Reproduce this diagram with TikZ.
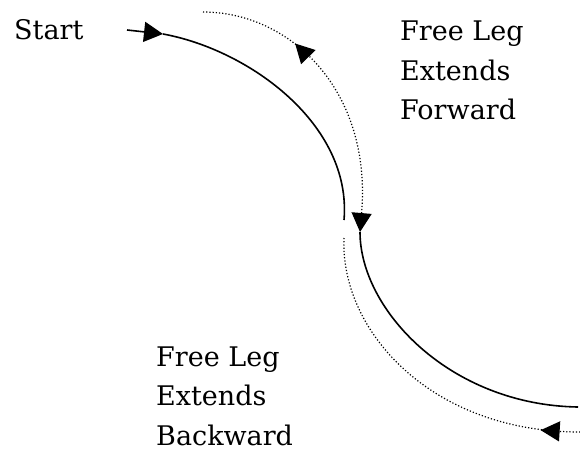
\documentclass[tikz,border=0pt]{standalone}
\usepackage{fontspec}
\setmainfont{DejaVu Serif}
\usetikzlibrary{arrows.meta,decorations.markings}

\begin{document}
\begin{tikzpicture}[x=1pt,y=-1pt]
    \tikzstyle{every node}=[font=\fontsize{27}{39.5}\selectfont, inner sep=0pt, align=left]
    \tikzstyle{leg}=[line width=1.6pt]
    \tikzstyle{free}=[dotted, line width=1.2pt]
    \tikzstyle{tip}=[-{Triangle[length=19pt,width=20pt]}]
    \tikzstyle{backmark}=[postaction={decorate}, decoration={markings,
        mark=at position #1 with {\arrow{Triangle[length=19pt,width=20pt,reversed]}}}]
    \useasboundingbox (0,0) rectangle (580,449);

    \node[anchor=base west] (start) at (14,40) {Start};
    \node[anchor=base west] (fwd) at (400,120) {Free Leg\\Extends\\Forward};
    \node[anchor=base west] (bwd) at (156,445) {Free Leg\\Extends\\Backward};

    \coordinate (tail) at (127,30);
    \coordinate (s1) at (163,34);
    \coordinate (e1) at (344,220);
    \coordinate (s2) at (360,232);
    \coordinate (e2) at (578,407);
    \coordinate (f1) at (203,12);
    \coordinate (b1) at (344,238);
    \coordinate (b2) at (580,432);

    \draw[leg,tip] (tail) -- (s1);
    \draw[leg] (s1) .. controls (250,50) and (352,125) .. (e1);
    \draw[leg] (s2) .. controls (360,310) and (450,405) .. (e2);
    \draw[free,tip,backmark=0.385] (f1) .. controls (290,12) and (372,90) .. (s2);
    \draw[free,backmark=0.94] (b1) .. controls (340,330) and (430,432) .. (b2);
\end{tikzpicture}
\end{document}
